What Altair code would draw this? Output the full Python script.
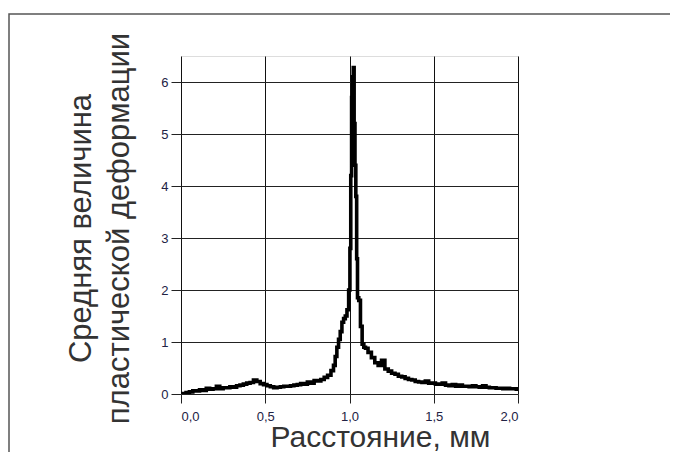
import altair as alt
import pandas as pd

# Distance, mm
x_vals = [0.00, 0.02, 0.04, 0.06, 0.08, 0.10, 0.12, 0.14, 0.16, 0.18,
          0.20, 0.22, 0.24, 0.26, 0.28, 0.30, 0.32, 0.34, 0.36, 0.38,
          0.40, 0.42, 0.44, 0.46, 0.48, 0.50, 0.52, 0.54, 0.56, 0.58,
          0.60, 0.62, 0.64, 0.66, 0.68, 0.70, 0.72, 0.74, 0.76, 0.78,
          0.80, 0.82, 0.84, 0.86, 0.88, 0.90, 0.91, 0.92, 0.93, 0.94,
          0.95, 0.96, 0.97, 0.98, 0.99, 1.000, 1.005, 1.010, 1.015, 1.020,
          1.025, 1.030, 1.035, 1.040, 1.045, 1.050, 1.060, 1.070, 1.080, 1.090,
          1.10, 1.12, 1.14, 1.16, 1.18, 1.20, 1.22, 1.24, 1.26, 1.28,
          1.30, 1.32, 1.34, 1.36, 1.38, 1.40, 1.42, 1.44, 1.46, 1.48,
          1.50, 1.52, 1.54, 1.56, 1.58, 1.60, 1.62, 1.64, 1.66, 1.68,
          1.70, 1.72, 1.74, 1.76, 1.78, 1.80, 1.82, 1.84, 1.86, 1.88,
          1.90, 1.92, 1.94, 1.96, 1.98, 2.00]

# Mean plastic strain
y_vals = [0.00, 0.01, 0.03, 0.04, 0.06, 0.06, 0.08, 0.07, 0.11, 0.09,
          0.10, 0.15, 0.10, 0.12, 0.12, 0.14, 0.13, 0.16, 0.17, 0.19,
          0.21, 0.22, 0.27, 0.24, 0.20, 0.18, 0.16, 0.14, 0.12, 0.13,
          0.14, 0.15, 0.15, 0.16, 0.17, 0.18, 0.20, 0.19, 0.23, 0.21,
          0.26, 0.25, 0.28, 0.32, 0.36, 0.45, 0.55, 0.72, 0.90, 1.05,
          1.20, 1.38, 1.45, 1.50, 1.62, 2.00, 2.80, 4.20, 5.70, 6.10,
          6.28, 5.20, 4.40, 3.80, 2.60, 1.85, 1.80, 1.30, 0.96, 0.90,
          0.88, 0.80, 0.70, 0.60, 0.55, 0.65, 0.48, 0.44, 0.40, 0.38,
          0.34, 0.33, 0.30, 0.28, 0.27, 0.24, 0.23, 0.22, 0.25, 0.21,
          0.21, 0.19, 0.19, 0.21, 0.17, 0.16, 0.18, 0.15, 0.17, 0.15,
          0.15, 0.14, 0.16, 0.14, 0.13, 0.16, 0.13, 0.12, 0.12, 0.11,
          0.11, 0.10, 0.11, 0.10, 0.10, 0.09]

x_ticks = [0.0, 0.5, 1.0, 1.5, 2.0]
y_ticks = [0, 1, 2, 3, 4, 5, 6]

x_title = "Расстояние, мм"
y_title = ["Средняя величина", "пластической деформации"]

df = pd.DataFrame({"x": x_vals, "y": y_vals})

FONT = "Liberation Sans"

line = alt.Chart(df).mark_line(
    color="black", strokeWidth=3.6, interpolate="step", clip=True
).encode(
    x=alt.X(
        "x:Q",
        scale=alt.Scale(domain=[0, 2], nice=False),
        axis=alt.Axis(
            values=x_ticks,
            labelExpr="replace(format(datum.value, '.1f'), '.', ',')",
            title=x_title,
            titleX=199,
            titleY=52,
            titleAnchor="start",
            titleAlign="center",
            titleBaseline="alphabetic",
            titleFontSize=30,
            titleFontWeight="normal",
            titleColor="#333333",
            titleFont=FONT,
            labelFont=FONT,
            labelFontSize=13,
            labelColor="#222244",
            labelPadding=7,
            tickSize=9,
            tickColor="#222222",
            grid=True,
            gridColor="#111111",
            gridWidth=1,
            domain=False,
        ),
    ),
    y=alt.Y(
        "y:Q",
        scale=alt.Scale(domain=[0, 6.5], nice=False),
        axis=alt.Axis(
            values=y_ticks,
            format="d",
            title=y_title,
            titleAngle=270,
            titleX=-91,
            titleY=172,
            titleAnchor="start",
            titleAlign="center",
            titleBaseline="alphabetic",
            titleLineHeight=38,
            titleFontSize=31,
            titleFontWeight="normal",
            titleColor="#333333",
            titleFont=FONT,
            labelFont=FONT,
            labelFontSize=13,
            labelColor="#222244",
            labelPadding=3,
            tickSize=10,
            tickColor="#222222",
            grid=True,
            gridColor="#222222",
            gridWidth=1,
            domain=False,
        ),
    ),
)

frame = alt.Chart(pd.DataFrame({"a": [0]})).mark_rect(
    filled=False, stroke="#555555", strokeWidth=1.5, clip=False
).encode(
    x=alt.value(-172),
    x2=alt.value(700),
    y=alt.value(-42),
    y2=alt.value(600),
)

chart = alt.layer(frame, line).properties(
    width=337,
    height=338,
    autosize=alt.AutoSizeParams(type="none"),
    padding={"left": 173, "top": 48, "right": 152, "bottom": 58},
).configure_view(
    stroke="#666666", strokeWidth=1.8
).configure(background="white")

chart.save("out.html", embed_options={"renderer": "svg", "actions": False})
